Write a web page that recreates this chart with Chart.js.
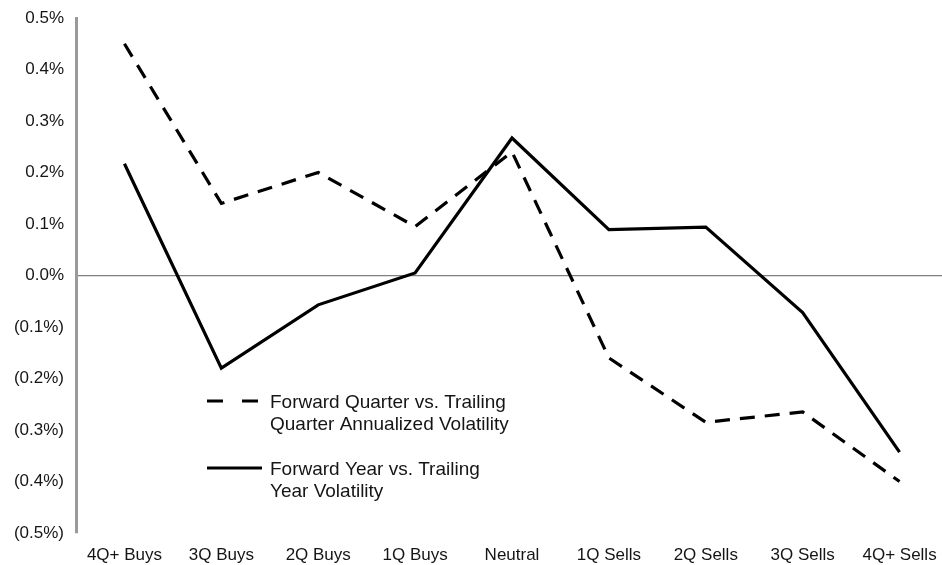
<!DOCTYPE html>
<html>
<head>
<meta charset="utf-8">
<script src="https://cdn.jsdelivr.net/npm/chart.js@4.4.1/dist/chart.umd.min.js"></script>
<style>
  html, body { margin: 0; padding: 0; background: #fff; overflow: hidden; }
  #wrap { width: 950px; height: 565px; }
</style>
</head>
<body>
<div id="wrap"><canvas id="c" width="950" height="565"></canvas></div>
<script>
// Signal buckets along the horizontal axis
const categories = ['4Q+ Buys', '3Q Buys', '2Q Buys', '1Q Buys', 'Neutral', '1Q Sells', '2Q Sells', '3Q Sells', '4Q+ Sells'];

// Change in volatility, in percent
const fwdQuarterVsTrailingQuarter = [0.45, 0.14, 0.20, 0.095, 0.24, -0.16, -0.285, -0.265, -0.40];
const fwdYearVsTrailingYear = [0.217, -0.18, -0.057, 0.005, 0.267, 0.089, 0.094, -0.072, -0.343];

const seriesLabels = [
  ['Forward Quarter vs. Trailing', 'Quarter Annualized Volatility'],
  ['Forward Year vs. Trailing', 'Year Volatility']
];

const yMin = -0.5, yMax = 0.5, yStep = 0.1;

function pctLabel(v) {
  const r = Math.round(v * 10) / 10;
  if (Math.abs(r) < 1e-9) return '0.0%';
  if (r < 0) return '(' + Math.abs(r).toFixed(1) + '%)';
  return r.toFixed(1) + '%';
}

const FONT = '"Liberation Sans", Arial, Helvetica, sans-serif';
const TEXT = '#151515';

// In-plot legend with two-line labels
const innerLegend = {
  id: 'innerLegend',
  afterDraw(chart) {
    const ctx = chart.ctx;
    const items = [
      { y: 401, dash: [16, 19], x0: 207, x1: 258, lines: seriesLabels[0] },
      { y: 468, dash: [], x0: 207, x1: 262, lines: seriesLabels[1] }
    ];
    ctx.save();
    items.forEach(it => {
      ctx.beginPath();
      ctx.setLineDash(it.dash);
      ctx.lineWidth = 3.2;
      ctx.strokeStyle = '#000';
      ctx.lineCap = 'butt';
      ctx.moveTo(it.x0, it.y);
      ctx.lineTo(it.x1, it.y);
      ctx.stroke();
      ctx.setLineDash([]);
      ctx.fillStyle = TEXT;
      ctx.font = '19px ' + FONT;
      ctx.textBaseline = 'middle';
      ctx.textAlign = 'left';
      it.lines.forEach((t, i) => ctx.fillText(t, 270, it.y + 2 + i * 22));
    });
    ctx.restore();
  }
};

new Chart(document.getElementById('c'), {
  type: 'line',
  data: {
    labels: categories,
    datasets: [
      {
        label: seriesLabels[0].join(' '),
        data: fwdQuarterVsTrailingQuarter,
        borderColor: '#000',
        borderWidth: 3.2,
        borderDash: [15, 10],
        pointRadius: 0,
        tension: 0,
        fill: false,
        borderJoinStyle: 'miter'
      },
      {
        label: seriesLabels[1].join(' '),
        data: fwdYearVsTrailingYear,
        borderColor: '#000',
        borderWidth: 3.2,
        pointRadius: 0,
        tension: 0,
        fill: false,
        borderJoinStyle: 'miter'
      }
    ]
  },
  options: {
    responsive: false,
    animation: false,
    layout: { padding: { top: 18, right: 2, bottom: 0, left: 0 } },
    plugins: {
      legend: { display: false },
      tooltip: { enabled: false },
      title: { display: false }
    },
    scales: {
      x: {
        type: 'category',
        offset: true,
        grid: { display: false, drawTicks: false },
        border: { display: false },
        ticks: {
          color: TEXT,
          font: { family: FONT, size: 17 },
          padding: 12,
          maxRotation: 0,
          autoSkip: false
        },
        afterFit(scale) { scale.height = 32; }
      },
      y: {
        min: yMin,
        max: yMax,
        ticks: {
          stepSize: yStep,
          color: TEXT,
          font: { family: FONT, size: 17 },
          padding: 12,
          callback: v => pctLabel(v)
        },
        grid: {
          drawTicks: false,
          lineWidth: 1.2,
          color: ctx => (ctx.tick && Math.abs(ctx.tick.value) < 1e-9) ? '#808080' : 'rgba(0,0,0,0)'
        },
        border: { display: true, color: '#9a9a9a', width: 3 },
        afterFit(scale) {
          scale.width = 76;
          scale.paddingTop = 0;
          scale.paddingBottom = 0;
        }
      }
    }
  },
  plugins: [innerLegend]
});
</script>
</body>
</html>
